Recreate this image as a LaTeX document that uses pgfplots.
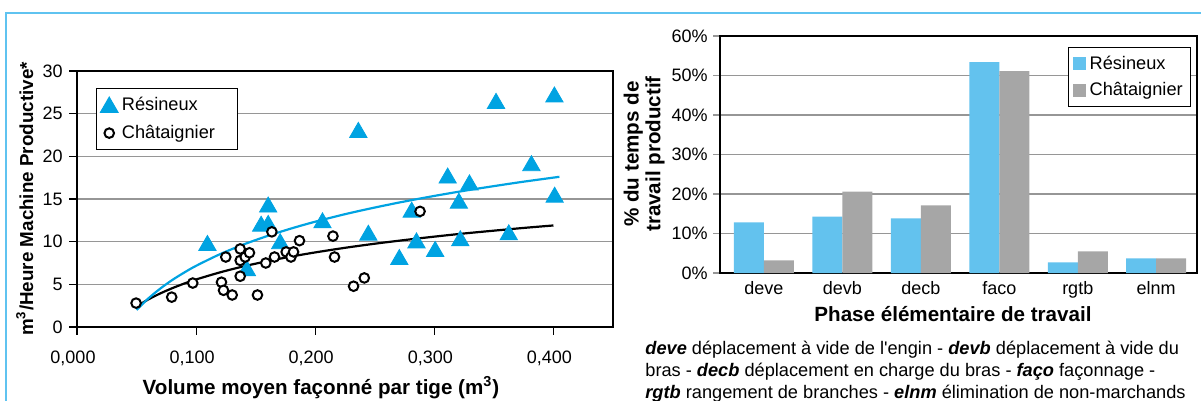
\documentclass[border=0pt]{standalone}
\usepackage{fontspec}
\setmainfont{Liberation Sans}
\usepackage{pgfplots}
\pgfplotsset{compat=1.18}
\definecolor{frameblue}{RGB}{95,195,240}
\definecolor{resblue}{RGB}{0,163,226}
\definecolor{barblue}{RGB}{99,194,238}
\definecolor{bargray}{RGB}{166,166,166}
\definecolor{gridgray}{RGB}{150,150,150}
\pgfplotsset{
  sqlegend/.style={legend image code/.code={\fill[##1] (0pt,-3.25pt) rectangle (6.5pt,3.25pt);}},
  mklegend/.style={legend image code/.code={\draw[##1] plot coordinates {(0pt,0pt)};}},
}
\begin{document}
\begin{tikzpicture}
\useasboundingbox (0pt,0pt) rectangle (600.5pt,-200.5pt);
\draw[frameblue, line width=1.25pt] (3pt,-200.5pt) -- (3pt,-6.5pt) -- (600.5pt,-6.5pt);

% ---------------- left: scatter ----------------
\begin{axis}[
  at={(38.5pt,-163.5pt)}, anchor=south west,
  scale only axis, width=268pt, height=128pt,
  xmin=0, xmax=0.45, ymin=0, ymax=30,
  xtick={0,0.1,0.2,0.3,0.4},
  xticklabels={{0,000},{0,100},{0,200},{0,300},{0,400}},
  ytick={0,5,10,15,20,25,30},
  ymajorgrids, grid style={draw=gridgray, line width=0.6pt},
  tick align=outside, tick pos=left,
  major tick length=4pt,
  major tick style={black, line width=0.6pt},
  axis line style={black, line width=0.6pt},
  /pgf/number format/assume math mode=true,
  tick label style={font=\fontsize{9pt}{10.8pt}\selectfont, inner sep=0pt},
  xticklabel style={anchor=base, yshift=-14.25pt, xshift=-2pt},
  yticklabel style={anchor=east, xshift=-3pt},
  legend style={at={(0.0354,0.9336)}, anchor=north west, draw=black, line width=0.6pt,
    font=\fontsize{9.1pt}{10.9pt}\selectfont, inner xsep=2pt, inner ysep=2pt, row sep=2pt, fill=white},
  legend cell align=left,
]
\addplot[only marks, mark=triangle*, color=resblue, mark size=5pt, mark options={yshift=-1.25pt}, mklegend] coordinates {
(0.1095,9.85) (0.1426,6.9) (0.1546,12.1) (0.1605,12.2) (0.1605,14.35) (0.1706,10.05)
(0.2061,12.5) (0.2362,23.1) (0.2446,11.05) (0.2706,8.2) (0.2810,13.75) (0.2850,10.15)
(0.3007,9.15) (0.3112,17.75) (0.3206,14.8) (0.3218,10.4) (0.3295,16.95) (0.3518,26.5)
(0.3625,11.1) (0.3815,19.2) (0.4008,27.25) (0.4010,15.5)
};
\addlegendentry{\makebox[54pt][l]{Résineux}}
\addplot[only marks, mark=*, mark size=2.4pt, mark options={fill=white, draw=black, line width=1pt}, mklegend] coordinates {
(0.0496,2.8) (0.0795,3.5) (0.0972,5.15) (0.1213,5.25) (0.1230,4.3) (0.1249,8.2)
(0.1303,3.75) (0.1370,9.15) (0.1370,7.8) (0.1370,5.95) (0.1412,8.2) (0.1448,8.7)
(0.1515,3.75) (0.1585,7.5) (0.1636,11.15) (0.1658,8.2) (0.1756,8.8) (0.1796,8.2)
(0.1818,8.8) (0.1868,10.12) (0.2149,10.65) (0.2162,8.2) (0.2322,4.78) (0.2412,5.75)
(0.2880,13.55)
};
\addlegendentry{\makebox[54pt][l]{Châtaignier}}
\addplot[black, line width=1.1pt, smooth, no marks, forget plot] coordinates {
(0.05,2.41) (0.06,3.24) (0.07,3.94) (0.08,4.55) (0.09,5.09) (0.10,5.57) (0.12,6.40)
(0.14,7.11) (0.16,7.72) (0.18,8.26) (0.20,8.74) (0.225,9.28) (0.25,9.76) (0.275,10.19)
(0.30,10.59) (0.325,10.96) (0.35,11.29) (0.375,11.61) (0.40,11.90)
};
\addplot[resblue, line width=1.1pt, smooth, no marks, forget plot] coordinates {
(0.05,2.00) (0.06,3.36) (0.07,4.51) (0.08,5.51) (0.09,6.38) (0.10,7.17) (0.12,8.53)
(0.14,9.68) (0.16,10.67) (0.18,11.55) (0.20,12.34) (0.225,13.22) (0.25,14.00) (0.275,14.71)
(0.30,15.36) (0.325,15.96) (0.35,16.51) (0.375,17.03) (0.405,17.60)
};
\end{axis}

\node[rotate=90, anchor=base, font=\bfseries\fontsize{9.4pt}{11pt}\selectfont] at (16.5pt,-99.5pt) {m\textsuperscript{3}/Heure Machine Productive*};
\node[anchor=base, font=\bfseries\fontsize{10.3pt}{12pt}\selectfont] at (160.5pt,-197pt) {Volume moyen façonné par tige (m\textsuperscript{3})};

% ---------------- right: bars ----------------
\begin{axis}[
  at={(360pt,-136.5pt)}, anchor=south west,
  scale only axis, width=238.5pt, height=118.5pt,
  xmin=-0.56, xmax=5.52, ymin=0, ymax=60,
  xtick={0,1,2,3,4,5}, xticklabels={deve,devb,decb,faco,rgtb,elnm},
  ytick={0,10,20,30,40,50,60},
  yticklabels={0\%,10\%,20\%,30\%,40\%,50\%,60\%},
  ymajorgrids, grid style={draw=gridgray, line width=0.6pt},
  tick align=outside, tick pos=left,
  major tick length=3.5pt,
  xtick style={draw=none},
  ytick style={draw=gridgray, line width=0.6pt},
  axis line style={black, line width=0.6pt},
  tick label style={font=\fontsize{9pt}{10.8pt}\selectfont, inner sep=0pt},
  xticklabel style={anchor=base, yshift=-7.25pt},
  yticklabel style={anchor=east, xshift=-2.5pt},
  ybar=0pt, bar width=15pt,
  legend style={at={(0.7296,0.9536)}, anchor=north west, draw=black, line width=0.6pt,
    font=\fontsize{9.1pt}{10.9pt}\selectfont, inner xsep=2pt, inner ysep=2pt, row sep=1pt, fill=white},
  legend cell align=left,
]
\addplot[fill=barblue, draw=none, sqlegend] coordinates {(0,12.8) (1,14.3) (2,13.8) (3,53.4) (4,2.7) (5,3.7)};
\addlegendentry{Résineux}
\addplot[fill=bargray, draw=none, sqlegend] coordinates {(0,3.2) (1,20.6) (2,17.1) (3,51.1) (4,5.5) (5,3.7)};
\addlegendentry{Châtaignier}
\end{axis}

\node[rotate=90, anchor=base, font=\bfseries\fontsize{10.3pt}{12pt}\selectfont] at (319.35pt,-77pt) {\% du temps de};
\node[rotate=90, anchor=base, font=\bfseries\fontsize{10.3pt}{12pt}\selectfont] at (330.2pt,-77pt) {travail productif};
\node[anchor=base, font=\bfseries\fontsize{10.3pt}{12pt}\selectfont] at (476.5pt,-160.75pt) {Phase élémentaire de travail};

\begin{scope}[every node/.style={anchor=base west, inner sep=0pt, font=\fontsize{9.1pt}{11pt}\selectfont}]
\node at (322.5pt,-177pt) {\textbf{\textit{deve}} déplacement à vide de l\textquotesingle engin - \textbf{\textit{devb}} déplacement à vide du};
\node at (322.5pt,-188pt) {bras - \textbf{\textit{decb}} déplacement en charge du bras - \textbf{\textit{faço}} façonnage -};
\node at (322.5pt,-199pt) {\textbf{\textit{rgtb}} rangement de branches - \textbf{\textit{elnm}} élimination de non-marchands};
\end{scope}
\end{tikzpicture}
\end{document}
